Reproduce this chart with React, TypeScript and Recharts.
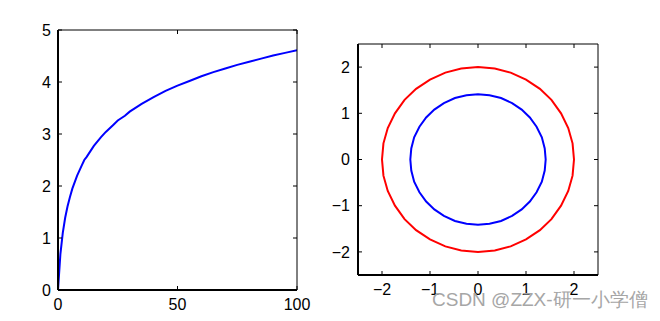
import React from 'react';
import { LineChart, Line, ScatterChart, Scatter, XAxis, YAxis } from 'recharts';

// Left panel: curve samples (x, y)
const curveX = [0, 1, 2, 3, 4, 5, 6, 8, 10, 11, 12, 15, 18, 20, 23, 25, 28, 30, 35, 40, 45, 50, 55, 60, 65, 70, 75, 80, 85, 90, 95, 100];
const curveY = [0, 0.69, 1.1, 1.39, 1.61, 1.79, 1.95, 2.2, 2.4, 2.5, 2.56, 2.77, 2.94, 3.04, 3.17, 3.26, 3.35, 3.43, 3.58, 3.71, 3.83, 3.93, 4.02, 4.11, 4.19, 4.26, 4.33, 4.39, 4.45, 4.51, 4.56, 4.61];
const leftXTicks = [0, 50, 100];
const leftYTicks = [0, 1, 2, 3, 4, 5];

// Right panel: outer (red) and inner (blue) closed curves, vertices
const redX = [2.0, 1.97, 1.88, 1.73, 1.53, 1.29, 1.0, 0.68, 0.35, 0.0, -0.35, -0.68, -1.0, -1.29, -1.53, -1.73, -1.88, -1.97, -2.0, -1.97, -1.88, -1.73, -1.53, -1.29, -1.0, -0.68, -0.35, 0.0, 0.35, 0.68, 1.0, 1.29, 1.53, 1.73, 1.88, 1.97, 2.0];
const redY = [0.0, 0.35, 0.68, 1.0, 1.29, 1.53, 1.73, 1.88, 1.97, 2.0, 1.97, 1.88, 1.73, 1.53, 1.29, 1.0, 0.68, 0.35, 0.0, -0.35, -0.68, -1.0, -1.29, -1.53, -1.73, -1.88, -1.97, -2.0, -1.97, -1.88, -1.73, -1.53, -1.29, -1.0, -0.68, -0.35, 0.0];
const blueX = [1.41, 1.39, 1.33, 1.22, 1.08, 0.91, 0.71, 0.48, 0.24, 0.0, -0.24, -0.48, -0.71, -0.91, -1.08, -1.22, -1.33, -1.39, -1.41, -1.39, -1.33, -1.22, -1.08, -0.91, -0.71, -0.48, -0.24, 0.0, 0.24, 0.48, 0.71, 0.91, 1.08, 1.22, 1.33, 1.39, 1.41];
const blueY = [0.0, 0.24, 0.48, 0.71, 0.91, 1.08, 1.22, 1.33, 1.39, 1.41, 1.39, 1.33, 1.22, 1.08, 0.91, 0.71, 0.48, 0.24, 0.0, -0.24, -0.48, -0.71, -0.91, -1.08, -1.22, -1.33, -1.39, -1.41, -1.39, -1.33, -1.22, -1.08, -0.91, -0.71, -0.48, -0.24, 0.0];
const rightTicks = [-2, -1, 0, 1, 2];

const watermark = 'CSDN @ZZX-研一小学僧';

const curveData = curveX.map((x, i) => ({ x, y: curveY[i] }));
const redData = redX.map((x, i) => ({ x, y: redY[i] }));
const blueData = blueX.map((x, i) => ({ x, y: blueY[i] }));

const FONT = 'Liberation Sans, Arial, sans-serif';
const tickStyle = { fill: '#000', fontSize: 16, fontFamily: FONT };
const fmt = (v: number) => String(v).replace('-', '\u2212');
const blank = () => '';
const Empty = () => <g />;

export default function App() {
  return (
    <div style={{ position: 'absolute', left: 0, top: 0, width: 660, height: 321, background: '#fff' }}>
      <div style={{ position: 'absolute', left: 0, top: 0 }}>
        <LineChart width={330} height={321} data={curveData} margin={{ top: 29, right: 32, bottom: 1, left: 0 }}>
          <XAxis xAxisId="b" dataKey="x" type="number" domain={[0, 100]} ticks={leftXTicks} allowDataOverflow
            height={30} tickSize={-4} tickMargin={13} tick={tickStyle} tickFormatter={fmt}
            axisLine={{ stroke: '#000', strokeWidth: 2 }} tickLine={{ stroke: '#000' }} />
          <XAxis xAxisId="t" orientation="top" dataKey="x" type="number" domain={[0, 100]} ticks={leftXTicks} allowDataOverflow
            height={1} tickSize={-4} tickFormatter={blank}
            axisLine={{ stroke: '#000', strokeWidth: 1 }} tickLine={{ stroke: '#000' }} />
          <YAxis yAxisId="l" type="number" domain={[0, 5]} ticks={leftYTicks} allowDataOverflow
            width={58} tickSize={-4} tickMargin={11} tick={tickStyle} tickFormatter={fmt}
            axisLine={{ stroke: '#000', strokeWidth: 2 }} tickLine={{ stroke: '#000' }} />
          <YAxis yAxisId="r" orientation="right" type="number" domain={[0, 5]} ticks={leftYTicks} allowDataOverflow
            width={1} tickSize={-4} tickFormatter={blank}
            axisLine={{ stroke: '#000', strokeWidth: 1 }} tickLine={{ stroke: '#000' }} />
          <Line xAxisId="t" yAxisId="r" dataKey="y" type="linear" stroke="none" strokeWidth={0} dot={false} activeDot={false} isAnimationActive={false} />
          <Line xAxisId="b" yAxisId="l" dataKey="y" type="linear" stroke="#0000ff" strokeWidth={2} dot={false} isAnimationActive={false} />
        </LineChart>
      </div>
      <div style={{ position: 'absolute', left: 330, top: 0 }}>
        <ScatterChart width={330} height={321} margin={{ top: 43, right: 61, bottom: 16, left: 0 }}>
          <XAxis xAxisId="b" dataKey="x" type="number" domain={[-2.5, 2.5]} ticks={rightTicks} allowDataOverflow
            height={30} tickSize={-4} tickMargin={13} tick={tickStyle} tickFormatter={fmt}
            axisLine={{ stroke: '#000', strokeWidth: 2 }} tickLine={{ stroke: '#000' }} />
          <XAxis xAxisId="t" orientation="top" dataKey="x" type="number" domain={[-2.5, 2.5]} ticks={rightTicks} allowDataOverflow
            height={1} tickSize={-4} tickFormatter={blank}
            axisLine={{ stroke: '#000', strokeWidth: 1 }} tickLine={{ stroke: '#000' }} />
          <YAxis yAxisId="l" dataKey="y" type="number" domain={[-2.5, 2.5]} ticks={rightTicks} allowDataOverflow
            width={28} tickSize={-4} tickMargin={12} tick={tickStyle} tickFormatter={fmt}
            axisLine={{ stroke: '#000', strokeWidth: 2 }} tickLine={{ stroke: '#000' }} />
          <YAxis yAxisId="r" orientation="right" dataKey="y" type="number" domain={[-2.5, 2.5]} ticks={rightTicks} allowDataOverflow
            width={1} tickSize={-4} tickFormatter={blank}
            axisLine={{ stroke: '#000', strokeWidth: 1 }} tickLine={{ stroke: '#000' }} />
          <Scatter xAxisId="t" yAxisId="r" data={redData} shape={<Empty />} isAnimationActive={false} />
          <Scatter xAxisId="b" yAxisId="l" data={redData} line={{ stroke: '#ff0000', strokeWidth: 2 }} lineType="joint" shape={<Empty />} isAnimationActive={false} />
          <Scatter xAxisId="b" yAxisId="l" data={blueData} line={{ stroke: '#0000ff', strokeWidth: 2 }} lineType="joint" shape={<Empty />} isAnimationActive={false} />
        </ScatterChart>
      </div>
      <div style={{ position: 'absolute', left: 432, top: 289, fontFamily: FONT, fontSize: 19, color: '#a6a6a6', whiteSpace: 'nowrap', lineHeight: '22px' }}>
        {watermark}
      </div>
    </div>
  );
}
